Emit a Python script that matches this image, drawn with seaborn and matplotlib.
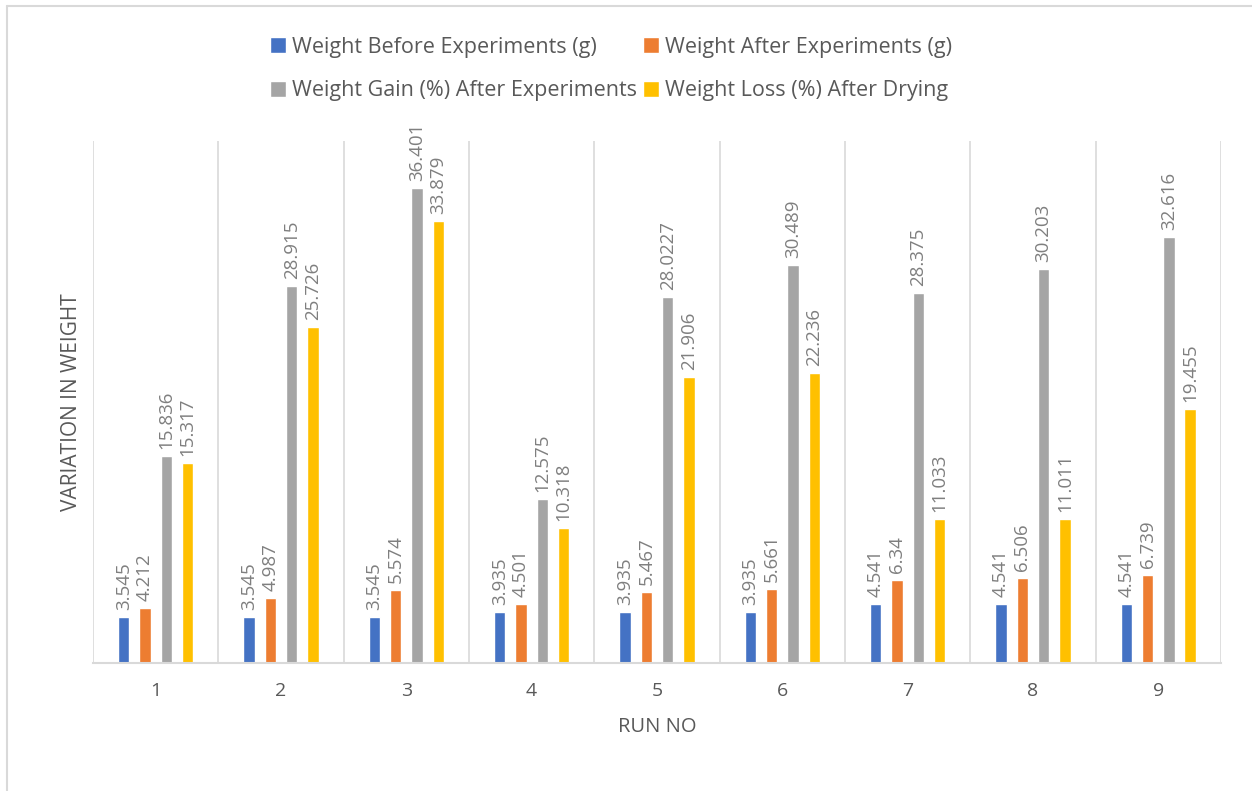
import matplotlib
matplotlib.use("Agg")
import matplotlib.pyplot as plt
from matplotlib.lines import Line2D
import seaborn as sns
import pandas as pd

runs = ["1", "2", "3", "4", "5", "6", "7", "8", "9"]
series_names = [
    "Weight Before Experiments (g)",
    "Weight After Experiments (g)",
    "Weight Gain (%) After Experiments",
    "Weight Loss (%) After Drying",
]
weight_before = [3.545, 3.545, 3.545, 3.935, 3.935, 3.935, 4.541, 4.541, 4.541]
weight_after = [4.212, 4.987, 5.574, 4.501, 5.467, 5.661, 6.34, 6.506, 6.739]
gain_pct = [15.836, 28.915, 36.401, 12.575, 28.0227, 30.489, 28.375, 30.203, 32.616]
loss_pct = [15.317, 25.726, 33.879, 10.318, 21.906, 22.236, 11.033, 11.011, 19.455]
colors = ["#4472C4", "#ED7D31", "#A5A5A5", "#FFC000"]

all_values = [weight_before, weight_after, gain_pct, loss_pct]
records = []
for name, vals in zip(series_names, all_values):
    for run, v in zip(runs, vals):
        records.append({"Run": run, "Series": name, "Value": v})
df = pd.DataFrame(records)

sns.set_theme(style="white")
plt.rcParams["font.family"] = ["Open Sans", "DejaVu Sans"]

fig = plt.figure(figsize=(12.52, 7.91), dpi=100)
ax = fig.add_axes([0.0743, 0.1618, 0.9009, 0.66])

sns.barplot(data=df, x="Run", y="Value", hue="Series", hue_order=series_names,
            order=runs, palette=colors, width=0.68, gap=0.46, ax=ax,
            saturation=1, errorbar=None, legend=True)

for container, vals in zip(ax.containers, all_values):
    ax.bar_label(container, labels=[f"{v:g}" for v in vals], rotation=90,
                 padding=5, fontsize=13.5, color="#7F7F7F")

ax.set_ylim(0, 40)
ax.set_xlim(-0.5, len(runs) - 0.5)
ax.set_yticks([])
for k in range(len(runs) + 1):
    ax.axvline(k - 0.5, color="#D9D9D9", lw=1.2, zorder=0)
for side in ["top", "left", "right"]:
    ax.spines[side].set_visible(False)
ax.spines["bottom"].set_color("#D9D9D9")
ax.spines["bottom"].set_linewidth(1.5)
ax.tick_params(axis="x", length=0, pad=14, labelsize=14, labelcolor="#595959")

ax.set_xlabel("RUN NO", fontsize=14.5, color="#595959", labelpad=12)
ax.set_ylabel("VARIATION IN WEIGHT", fontsize=15, color="#595959", labelpad=8)

handles, labels = ax.get_legend_handles_labels()
ax.get_legend().remove()
order = [0, 2, 1, 3]
fig.legend([handles[i] for i in order], [labels[i] for i in order], ncol=2,
           loc="upper left", bbox_to_anchor=(0.200, 0.978), frameon=False,
           fontsize=15.5, labelcolor="#595959", handlelength=0.75,
           handleheight=0.75, handletextpad=0.3, columnspacing=0.25,
           labelspacing=1.05)

# outer frame lines (top and left)
fig.add_artist(Line2D([7 / 1252, 1.0], [1 - 6 / 791, 1 - 6 / 791],
                      transform=fig.transFigure, color="#D9D9D9", lw=1.5))
fig.add_artist(Line2D([7 / 1252, 7 / 1252], [0.0, 1 - 6 / 791],
                      transform=fig.transFigure, color="#D9D9D9", lw=1.5))

fig.savefig("out.png", dpi=100)
